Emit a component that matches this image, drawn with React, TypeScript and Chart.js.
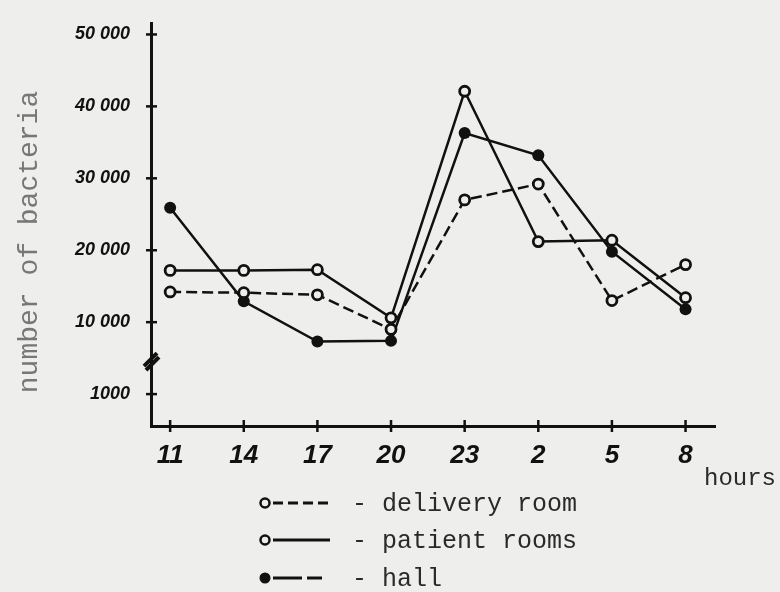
import React, { useEffect, useRef } from "react";
import { Chart, registerables } from "chart.js";

Chart.register(...registerables);

const hours = ["11", "14", "17", "20", "23", "2", "5", "8"];
const yTickValues = [0, 10000, 20000, 30000, 40000, 50000];
const yTickLabels = ["1000", "10 000", "20 000", "30 000", "40 000", "50 000"];

// values in axis units (axis is broken between 1000 and 10 000)
const deliveryRoom = [14200, 14100, 13800, 9000, 27000, 29200, 13000, 18000];
const patientRooms = [17200, 17200, 17300, 10600, 42100, 21200, 21400, 13400];
const hall = [25900, 12900, 7300, 7400, 36300, 33200, 19800, 11800];

const legendLabels = ["- delivery room", "- patient rooms", "- hall"];

const PAPER = "#eeeeec";
const INK = "#111111";

const toPoints = (arr: number[]) => arr.map((y, i) => ({ x: i, y }));

const decorPlugin = {
  id: "decor",
  beforeDraw(chart: any) {
    const { ctx, width, height } = chart;
    ctx.save();
    ctx.fillStyle = PAPER;
    ctx.fillRect(0, 0, width, height);
    ctx.restore();
  },
  afterDraw(chart: any) {
    const { ctx } = chart;
    const xs = chart.scales.x;
    const ys = chart.scales.y;
    const left = chart.chartArea.left;
    const bottom = chart.chartArea.bottom;
    ctx.save();
    ctx.strokeStyle = INK;
    ctx.lineWidth = 2.5;
    // y tick marks crossing the axis
    yTickValues.forEach((v) => {
      const py = ys.getPixelForValue(v);
      ctx.beginPath();
      ctx.moveTo(left - 5, py);
      ctx.lineTo(left + 6, py);
      ctx.stroke();
    });
    // x tick marks crossing the axis
    hours.forEach((_, i) => {
      const px = xs.getPixelForValue(i);
      ctx.beginPath();
      ctx.moveTo(px, bottom - 6);
      ctx.lineTo(px, bottom + 6);
      ctx.stroke();
    });
    // axis break mark
    const by = (ys.getPixelForValue(0) + ys.getPixelForValue(10000)) / 2 + 2;
    ctx.lineWidth = 4;
    ctx.beginPath();
    ctx.moveTo(left - 7, by + 6);
    ctx.lineTo(left + 6, by - 7);
    ctx.stroke();
    ctx.beginPath();
    ctx.moveTo(left - 5, by + 10);
    ctx.lineTo(left + 8, by - 3);
    ctx.stroke();

    // y title
    ctx.fillStyle = "#777777";
    ctx.font = "28px 'Liberation Mono', monospace";
    ctx.textAlign = "center";
    ctx.textBaseline = "middle";
    ctx.save();
    ctx.translate(30, 242);
    ctx.rotate(-Math.PI / 2);
    ctx.fillText("number of bacteria", 0, 0);
    ctx.restore();

    // hours label
    ctx.fillStyle = "#2a2a2a";
    ctx.font = "24px 'Liberation Mono', monospace";
    ctx.textAlign = "left";
    ctx.textBaseline = "alphabetic";
    ctx.fillText("hours", 704, 485);

    // legend
    const rows = [503, 540, 578];
    const mx = 265;
    rows.forEach((ry, k) => {
      ctx.strokeStyle = INK;
      ctx.fillStyle = INK;
      ctx.lineWidth = 2.5;
      // marker
      ctx.beginPath();
      if (k === 2) {
        ctx.arc(mx, ry, 5.5, 0, Math.PI * 2);
        ctx.fill();
      } else {
        ctx.arc(mx, ry, 4.5, 0, Math.PI * 2);
        ctx.fillStyle = PAPER;
        ctx.fill();
        ctx.lineWidth = 2.5;
        ctx.stroke();
      }
      // line sample
      ctx.lineWidth = 3;
      ctx.beginPath();
      if (k === 0) {
        ctx.setLineDash([10, 5]);
        ctx.moveTo(273, ry);
        ctx.lineTo(330, ry);
      } else if (k === 1) {
        ctx.setLineDash([]);
        ctx.moveTo(273, ry);
        ctx.lineTo(330, ry);
      } else {
        ctx.setLineDash([29, 5]);
        ctx.moveTo(273, ry);
        ctx.lineTo(322, ry);
      }
      ctx.stroke();
      ctx.setLineDash([]);
      // text
      ctx.fillStyle = "#2a2a2a";
      ctx.font = "25px 'Liberation Mono', monospace";
      ctx.textAlign = "left";
      ctx.textBaseline = "middle";
      ctx.fillText(legendLabels[k], 352, ry + 1);
    });
    ctx.restore();
  },
};

export default function App() {
  const ref = useRef<HTMLCanvasElement | null>(null);

  useEffect(() => {
    if (!ref.current) return;
    const chart = new Chart(ref.current, {
      type: "line",
      data: {
        datasets: [
          {
            label: "delivery room",
            data: toPoints(deliveryRoom),
            borderColor: INK,
            borderWidth: 2.5,
            borderDash: [11, 5],
            pointRadius: 5,
            pointBorderWidth: 2.8,
            pointBackgroundColor: PAPER,
            pointBorderColor: INK,
            tension: 0,
            fill: false,
          },
          {
            label: "patient rooms",
            data: toPoints(patientRooms),
            borderColor: INK,
            borderWidth: 2.5,
            pointRadius: 5,
            pointBorderWidth: 2.8,
            pointBackgroundColor: PAPER,
            pointBorderColor: INK,
            tension: 0,
            fill: false,
          },
          {
            label: "hall",
            data: toPoints(hall),
            borderColor: INK,
            borderWidth: 2.5,
            pointRadius: 6,
            pointBorderWidth: 0,
            pointBackgroundColor: INK,
            pointBorderColor: INK,
            tension: 0,
            fill: false,
          },
        ],
      },
      options: {
        responsive: false,
        animation: false,
        layout: { padding: { left: 0, right: 65, top: 10, bottom: 0 } },
        plugins: { legend: { display: false }, tooltip: { enabled: false } },
        scales: {
          x: {
            type: "linear",
            min: -0.26,
            max: 7.4,
            grid: { display: false },
            border: { display: true, color: INK, width: 3 },
            afterBuildTicks: (scale: any) => {
              scale.ticks = hours.map((_, i) => ({ value: i }));
            },
            afterFit: (scale: any) => {
              scale.height = 166;
            },
            ticks: {
              autoSkip: false,
              maxRotation: 0,
              padding: 6,
              color: INK,
              font: {
                family: "'Liberation Sans Narrow', 'Liberation Sans', sans-serif",
                size: 26,
                style: "italic",
                weight: "bold",
              },
              callback: (v: any) => hours[Math.round(Number(v))] ?? "",
            },
          },
          y: {
            type: "linear",
            min: -4435,
            max: 51480,
            grid: { display: false },
            border: { display: true, color: INK, width: 3 },
            afterBuildTicks: (scale: any) => {
              scale.ticks = yTickValues.map((v) => ({ value: v }));
            },
            afterFit: (scale: any) => {
              scale.width = 151;
            },
            ticks: {
              autoSkip: false,
              padding: 13,
              color: INK,
              font: {
                family: "'Liberation Sans', sans-serif",
                size: 18,
                style: "italic",
                weight: "bold",
              },
              callback: (v: any) => {
                const idx = yTickValues.indexOf(Number(v));
                return idx >= 0 ? yTickLabels[idx] : "";
              },
            },
          },
        },
      },
      plugins: [decorPlugin],
    });
    return () => chart.destroy();
  }, []);

  return (
    <div
      style={{
        position: "fixed",
        left: 0,
        top: 0,
        width: 780,
        height: 592,
        background: PAPER,
      }}
    >
      <canvas ref={ref} width={780} height={592} style={{ display: "block" }} />
    </div>
  );
}
